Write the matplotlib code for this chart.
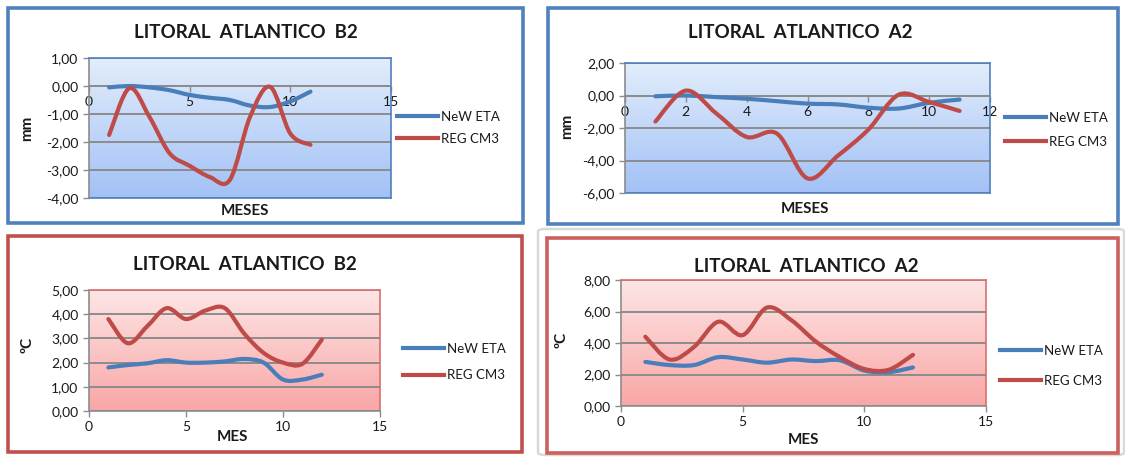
import numpy as np
import matplotlib
matplotlib.use('Agg')
import matplotlib.pyplot as plt
from matplotlib.path import Path
from matplotlib.patches import PathPatch, Rectangle, FancyBboxPatch
from matplotlib.lines import Line2D
from matplotlib.colors import LinearSegmentedColormap
from matplotlib.ticker import FuncFormatter

# --- data ---
months_11 = [1, 2, 3, 4, 5, 6, 7, 8, 9, 10, 11]
months_12 = [1, 2, 3, 4, 5, 6, 7, 8, 9, 10, 11, 12]

b2_prec_eta = [-0.05, 0.0, -0.05, -0.15, -0.32, -0.42, -0.5, -0.7, -0.75, -0.55, -0.2]
b2_prec_reg = [-1.75, -0.08, -1.1, -2.4, -2.85, -3.25, -3.35, -1.1, -0.03, -1.7, -2.1]

a2_prec_eta = [-0.05, 0.0, -0.1, -0.2, -0.35, -0.5, -0.55, -0.75, -0.8, -0.45, -0.25]
a2_prec_reg = [-1.6, 0.3, -1.1, -2.55, -2.35, -5.1, -3.7, -2.1, 0.05, -0.4, -0.95]

b2_temp_eta = [1.8, 1.9, 1.97, 2.1, 2.0, 2.0, 2.05, 2.15, 2.0, 1.3, 1.3, 1.5]
b2_temp_reg = [3.8, 2.8, 3.5, 4.25, 3.8, 4.15, 4.25, 3.2, 2.4, 2.0, 1.95, 2.95]

a2_temp_eta = [2.8, 2.6, 2.6, 3.1, 2.95, 2.75, 2.95, 2.85, 2.9, 2.25, 2.15, 2.45]
a2_temp_reg = [4.4, 2.95, 3.75, 5.35, 4.5, 6.25, 5.45, 4.1, 3.1, 2.35, 2.3, 3.25]

series_names = ['NeW ETA', 'REG CM3']
title_b2 = 'LITORAL  ATLANTICO  B2'
title_a2 = 'LITORAL  ATLANTICO  A2'

# --- style ---
W, H = 1125, 457
BLUE_LINE = '#4a7ebb'
RED_LINE = '#be4b48'
BLUE_BOX = '#4f81bd'
RED_BOX = '#c0504d'
LW = 3.0
plt.rcParams['font.family'] = ['Lato', 'DejaVu Sans']
TXT = '#1a1a1a'

fig = plt.figure(figsize=(W / 100, H / 100), dpi=100)
fig.patch.set_facecolor('white')


def fx(x):
    return x / W


def fy(y):
    return 1 - y / H


def px_axes(l, t, r, b):
    return fig.add_axes([fx(l), fy(b), (r - l) / W, (b - t) / H])


def smooth_path(x, y):
    # Excel-like smoothed line (Catmull-Rom as cubic Bezier)
    pts = np.column_stack([x, y]).astype(float)
    ext = np.vstack([pts[0], pts, pts[-1]])
    verts = [pts[0]]
    codes = [Path.MOVETO]
    for i in range(len(pts) - 1):
        p0, p1, p2, p3 = ext[i], ext[i + 1], ext[i + 2], ext[i + 3]
        verts += [p1 + (p2 - p0) / 6, p2 - (p3 - p1) / 6, p2]
        codes += [Path.CURVE4] * 3
    return Path(verts, codes)


def comma_fmt(v, pos):
    return f"{v:.2f}".replace('.', ',').replace('-0,00', '0,00')


def box(l, t, r, b, color):
    fig.add_artist(Rectangle((fx(l), fy(b)), (r - l) / W, (b - t) / H, transform=fig.transFigure,
                             facecolor='none', edgecolor=color, linewidth=2.6))


def panel(rect, xs, eta, reg, xlim, xticks, ylim, yticks, grad, frame_col, title, title_xy,
          xlabel, xlabel_xy, ylabel, ylabel_xy, leg_xy, leg_gap, axis_at_zero):
    ax = px_axes(*rect)
    cmap = LinearSegmentedColormap.from_list('g', grad)
    ax.imshow(np.linspace(0, 1, 256).reshape(-1, 1), cmap=cmap, extent=[0, 1, 0, 1],
              transform=ax.transAxes, aspect='auto', zorder=0)
    ax.set_xlim(*xlim)
    ax.set_ylim(*ylim)
    ax.set_xticks(xticks)
    ax.set_yticks(yticks)
    ax.yaxis.set_major_formatter(FuncFormatter(comma_fmt))
    ax.grid(axis='y', color='#8c8c8c', linewidth=1.4, zorder=1)
    ax.set_axisbelow(True)
    for s in ['top', 'right']:
        ax.spines[s].set_color(frame_col)
        ax.spines[s].set_linewidth(1.2)
    ax.spines['left'].set_color('#8c8c8c')
    ax.spines['bottom'].set_color('#8c8c8c')
    ax.spines['left'].set_linewidth(1.2)
    ax.spines['bottom'].set_linewidth(1.2)
    if axis_at_zero:
        ax.spines['bottom'].set_position(('data', 0))
        ax.add_line(Line2D([0, 1], [0, 0], transform=ax.transAxes, color=frame_col, lw=1.2, clip_on=False))
    ax.tick_params(axis='both', colors='#8c8c8c', labelcolor=TXT, labelsize=10, length=4, width=1)
    for data, col in [(eta, BLUE_LINE), (reg, RED_LINE)]:
        ax.add_patch(PathPatch(smooth_path(xs, data), facecolor='none', edgecolor=col,
                               linewidth=LW, capstyle='round', joinstyle='round', zorder=3))
    fig.text(fx(title_xy[0]), fy(title_xy[1]), title, ha='center', va='center', fontsize=13.5,
             fontweight='bold', color=TXT)
    fig.text(fx(xlabel_xy[0]), fy(xlabel_xy[1]), xlabel, ha='center', va='center', fontsize=11,
             fontweight='bold', color=TXT)
    fig.text(fx(ylabel_xy[0]), fy(ylabel_xy[1]), ylabel, ha='center', va='center', fontsize=11,
             fontweight='bold', color=TXT, rotation=90)
    handles = [Line2D([], [], color=BLUE_LINE, lw=LW), Line2D([], [], color=RED_LINE, lw=LW)]
    ax.legend(handles, series_names, loc='center left', bbox_to_anchor=(fx(leg_xy[0]), fy(leg_xy[1])),
              bbox_transform=fig.transFigure, frameon=False, fontsize=9.5, handlelength=3.1,
              handletextpad=0.2, borderpad=0, borderaxespad=0, labelspacing=leg_gap,
              labelcolor=TXT)
    return ax


# boxes
box(8, 8, 523, 223, BLUE_BOX)
box(548, 8, 1118, 224, BLUE_BOX)
box(8, 236, 522, 452, RED_BOX)
fig.add_artist(FancyBboxPatch((fx(538), fy(455)), (1124 - 538) / W, (455 - 229) / H,
                              boxstyle='round,pad=0,rounding_size=0.006', transform=fig.transFigure,
                              facecolor='none', edgecolor='#d9d9d9', linewidth=1.8))
box(547, 238, 1118, 453, '#cc605d')

BLUE_GRAD = ['#e2edfb', '#a2c1f6']
RED_GRAD = ['#fde6e6', '#f9a6a5']

panel((89, 58, 391, 198), months_11, b2_prec_eta, b2_prec_reg, (0, 15), [0, 5, 10, 15], (-4, 1),
      [-4, -3, -2, -1, 0, 1], BLUE_GRAD, BLUE_BOX, title_b2, (246, 33), 'MESES', (245, 211),
      'mm', (27, 128), (397, 128), 0.75, True)
panel((625, 63, 990, 193), months_11, a2_prec_eta, a2_prec_reg, (0, 12), [0, 2, 4, 6, 8, 10, 12],
      (-6, 2), [-6, -4, -2, 0, 2], BLUE_GRAD, BLUE_BOX, title_a2, (800, 33), 'MESES', (805, 209),
      'mm', (567, 126), (1005, 130), 0.9, True)
panel((89, 290, 380, 411), months_12, b2_temp_eta, b2_temp_reg, (0, 15), [0, 5, 10, 15], (0, 5),
      [0, 1, 2, 3, 4, 5], RED_GRAD, '#d9706d', title_b2, (245, 265), 'MES', (232, 437),
      'ºC', (28, 345), (403, 362), 1.1, False)
panel((621, 280, 986, 406), months_12, a2_temp_eta, a2_temp_reg, (0, 15), [0, 5, 10, 15], (0, 8),
      [0, 2, 4, 6, 8], RED_GRAD, '#d9706d', title_a2, (806, 267), 'MES', (803, 440),
      'ºC', (562, 340), (1000, 366), 1.35, False)

fig.savefig('out.png', dpi=100)
